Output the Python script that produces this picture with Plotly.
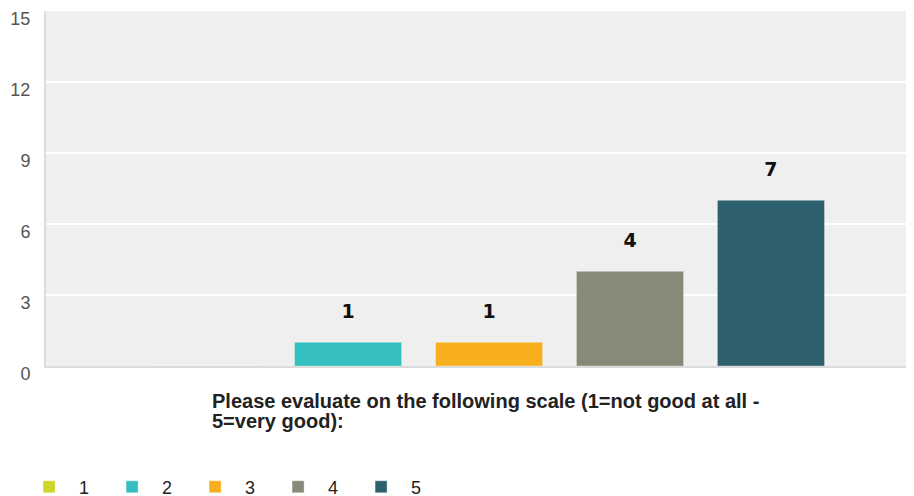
import plotly.graph_objects as go

categories = ["Please evaluate on the following scale (1=not good at all -", "5=very good):"]
series_names = ["1", "2", "3", "4", "5"]
series_values = [0, 1, 1, 4, 7]
series_colors = ["#cdd52b", "#34bec0", "#f7ae1f", "#888978", "#2f606d"]
y_ticks = [0, 3, 6, 9, 12, 15]

cat_key = " ".join(categories)

fig = go.Figure()
for name, val, col in zip(series_names, series_values, series_colors):
    fig.add_trace(go.Bar(
        name=name, x=[cat_key], y=[val],
        marker=dict(color=col, line=dict(color="rgba(255,255,255,0.35)", width=1)),
        text=["<span style='font-size:19px'><b>%d</b></span><br> " % val if val > 0 else ""],
        textposition="outside",
        textfont=dict(family="DejaVu Sans", size=14, color="#111"),
        cliponaxis=False,
        hoverinfo="skip",
    ))

# page body has an 8px default margin, so the figure is 8px smaller than the window
fig.update_layout(
    width=906, height=488,
    margin=dict(l=38, r=0, t=3, b=130, autoexpand=False),
    paper_bgcolor="white",
    plot_bgcolor="#efefef",
    barmode="group",
    bargap=0.188,
    bargroupgap=0.24,
    font=dict(family="Liberation Sans, Arial", color="#222"),
    showlegend=True,
    legend=dict(orientation="h", x=-0.031, xanchor="left",
                yref="paper", y=-0.289, yanchor="top",
                font=dict(size=18, color="#222"),
                entrywidth=18, entrywidthmode="pixels", itemwidth=50,
                traceorder="normal"),
    xaxis=dict(range=[-0.5104, 0.4896], showticklabels=False, showgrid=False,
               showline=True, linecolor="#dcdcdc", linewidth=2, zeroline=False,
               automargin=False, fixedrange=True),
    yaxis=dict(range=[0, 15], tickvals=y_ticks, ticktext=[str(v) for v in y_ticks],
               gridcolor="white", gridwidth=2, showline=True, linecolor="#dcdcdc",
               linewidth=2, zeroline=False, ticks="", automargin=False,
               tickfont=dict(size=18, color="#555"),
               ticklabelstandoff=10, ticklabelshift=8),
    annotations=[
        dict(x=(210 - 46) / 868, xref="paper", y=-0.0615, yref="paper", yanchor="top",
             xanchor="left", text="<b>" + categories[0] + "</b>", showarrow=False,
             font=dict(size=20, color="#222")),
        dict(x=(210 - 46) / 868, xref="paper", y=-0.1185, yref="paper", yanchor="top",
             xanchor="left", text="<b>" + categories[1] + "</b>", showarrow=False,
             font=dict(size=20, color="#222")),
    ],
)

fig.write_html("out.html")
